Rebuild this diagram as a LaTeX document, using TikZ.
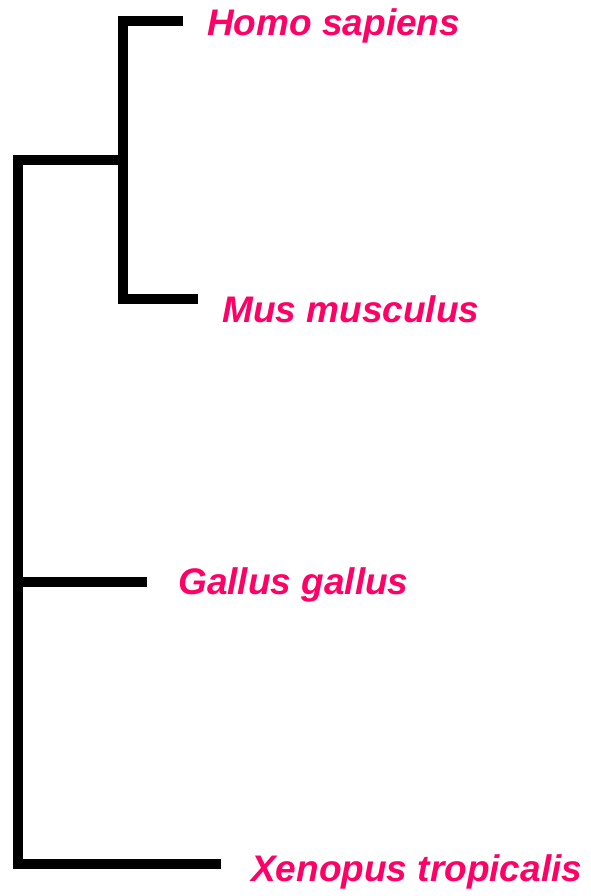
\documentclass[tikz,border=0pt]{standalone}
\usepackage{fontspec}
\usepackage{tikz}
\setmainfont{Liberation Sans}
\definecolor{ffqqaa}{rgb}{1.,0.,0.4}
\tikzset{
  branch/.style={line width=7.5pt,color=black,line cap=butt,line join=miter},
  taxon/.style={color=ffqqaa,font=\fontsize{27.75}{30}\selectfont\bfseries\itshape,anchor=base west,inner sep=0pt}
}
\begin{document}
\begin{tikzpicture}[x=0.75pt,y=-0.75pt]
\useasboundingbox (0,0) rectangle (590,896);
% inner nodes
\coordinate (root) at (18,160);
\coordinate (mammal) at (123,160);
% branch tips
\coordinate (homo) at (183,20.5);
\coordinate (mus) at (198,299);
\coordinate (gallus) at (147,582);
\coordinate (xenopus) at (221,864);
% branches
\draw[branch] (homo) -| (mammal) |- (mus);
\draw[branch] (mammal) -- (root) |- (xenopus);
\draw[branch] (root |- gallus) -- (gallus);
% leaf labels
\node[taxon] (homoL) at (207,35) {Homo sapiens};
\node[taxon] (musL) at (222,322) {Mus musculus};
\node[taxon] (gallusL) at (178,594) {Gallus gallus};
\node[taxon] (xenopusL) at (251,881) {Xenopus tropicalis};
\end{tikzpicture}
\end{document}
